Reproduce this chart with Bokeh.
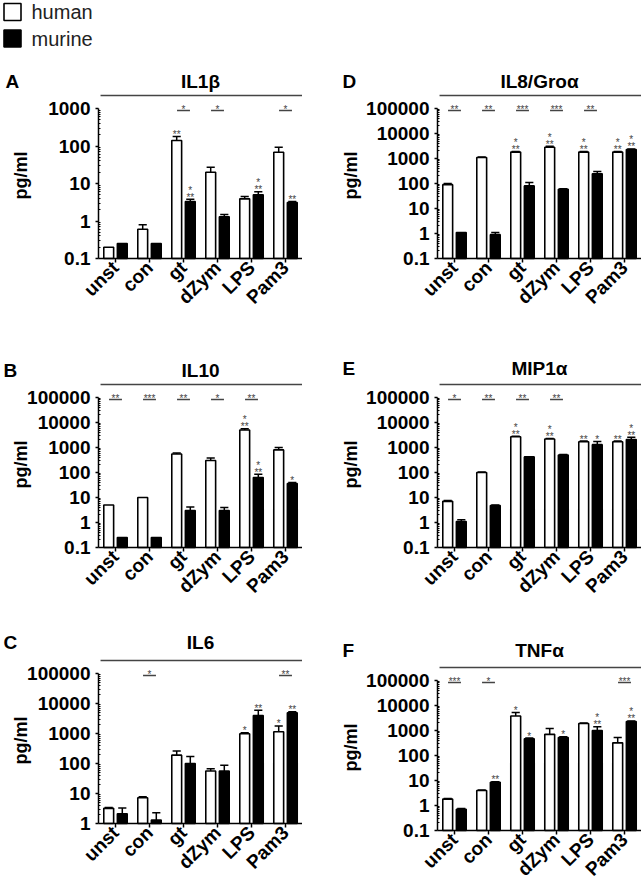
import math
from bokeh.plotting import figure
from bokeh.models import (Range1d, FixedTicker, CustomJSTickFormatter,
                          ColumnDataSource, Spacer)
from bokeh.layouts import row, column
from bokeh.embed import file_html
from bokeh.resources import INLINE
from bokeh.core.properties import value

FONT = "Liberation Sans"

categories = ["unst", "con", "gt", "dZym", "LPS", "Pam3"]
series = ["human", "murine"]

# ---- A: IL1beta ----
a_human = [0.2, 0.6, 140, 20, 3.9, 68]
a_human_up = [0.2, 0.8, 180, 27, 4.5, 93]
a_murine = [0.25, 0.25, 3.3, 1.3, 5.0, 3.1]
a_murine_up = [0.25, 0.25, 3.8, 1.5, 6.0, 3.3]
a_human_sig = ["", "", "**", "", "", ""]
a_murine_sig = ["", "", "***", "", "***", "**"]
a_pair_sig = ["", "", "*", "*", "", "*"]

# ---- B: IL10 ----
b_human = [5, 10, 550, 300, 5000, 800]
b_human_up = [5, 10, 600, 380, 5600, 1000]
b_murine = [0.25, 0.25, 3.0, 3.0, 63, 36]
b_murine_up = [0.25, 0.25, 4.2, 4.0, 85, 40]
b_human_sig = ["", "", "", "", "***", ""]
b_murine_sig = ["", "", "", "", "***", "*"]
b_pair_sig = ["**", "***", "**", "*", "**", ""]

# ---- C: IL6 ----
c_human = [3.2, 7.2, 190, 56, 980, 1150]
c_human_up = [3.4, 7.8, 260, 67, 1050, 1780]
c_murine = [2.1, 1.3, 100, 56, 4000, 4900]
c_murine_up = [3.3, 2.3, 170, 87, 6000, 5300]
c_human_sig = ["", "", "", "", "*", "*"]
c_murine_sig = ["", "", "", "", "**", "**"]
c_pair_sig = ["", "*", "", "", "", "**"]

# ---- D: IL8/Groalpha ----
d_human = [90, 1100, 1800, 2800, 1800, 1800]
d_human_up = [100, 1150, 1900, 3100, 1900, 1900]
d_murine = [1.1, 0.9, 80, 59, 245, 2300]
d_murine_up = [1.1, 1.1, 110, 62, 300, 2400]
d_human_sig = ["", "", "***", "***", "***", "***"]
d_murine_sig = ["", "", "", "", "", "***"]
d_pair_sig = ["**", "**", "***", "***", "**", ""]

# ---- E: MIP1alpha ----
e_human = [7, 100, 2700, 2200, 1700, 1700]
e_human_up = [7.5, 105, 2800, 2300, 1800, 1800]
e_murine = [1.1, 4.8, 420, 500, 1300, 2100]
e_murine_up = [1.3, 5.0, 430, 520, 1750, 2600]
e_human_sig = ["", "", "***", "***", "**", "**"]
e_murine_sig = ["", "", "", "", "*", "***"]
e_pair_sig = ["*", "**", "**", "**", "", ""]

# ---- F: TNFalpha ----
f_human = [1.8, 4.0, 3800, 700, 1900, 320]
f_human_up = [1.9, 4.2, 5200, 1200, 2000, 520]
f_murine = [0.7, 8.5, 470, 520, 1000, 2300]
f_murine_up = [0.75, 9.0, 500, 560, 1400, 2400]
f_human_sig = ["", "", "*", "", "", ""]
f_murine_sig = ["", "**", "*", "*", "***", "***"]
f_pair_sig = ["***", "*", "", "", "", "***"]

AXIS_H = 150
SIG_COLOR = "#444444"


def make_panel(letter, title, ymin, ymax, human, human_up, murine, murine_up,
               human_sig, murine_sig, pair_sig,
               frame_w, axis_px, top_extra, bottom_extra, title_dy,
               letter_dx, ylab_dx):
    n = len(categories)
    emin = round(math.log10(ymin))
    emax = round(math.log10(ymax))
    ppd = AXIS_H / (emax - emin)
    ytop = ymax * 10 ** (top_extra / ppd)
    ybot = ymin * 10 ** (-bottom_extra / ppd)
    pitch = (frame_w - axis_px) / n
    p = figure(x_range=Range1d(-axis_px / pitch, n),
               y_range=Range1d(ybot, ytop), y_axis_type="log",
               frame_width=frame_w, frame_height=AXIS_H + top_extra + bottom_extra,
               min_border=0, toolbar_location=None, output_backend="svg")
    p.outline_line_color = None
    p.grid.visible = False
    p.background_fill_color = "white"
    p.border_fill_color = "white"

    xc = [i + 0.5 for i in range(n)]
    xh = [c - 0.2 for c in xc]
    xm = [c + 0.2 for c in xc]

    # error bars (upper only)
    ex0, ey0, ex1, ey1 = [], [], [], []
    for xs, vals, ups in ((xh, human, human_up), (xm, murine, murine_up)):
        for x, v, u in zip(xs, vals, ups):
            if u > v:
                ex0 += [x, x - 0.12]
                ex1 += [x, x + 0.12]
                ey0 += [v, u]
                ey1 += [u, u]
    p.segment(x0=ex0, y0=ey0, x1=ex1, y1=ey1, line_color="black", line_width=1.5)

    src = ColumnDataSource(dict(xh=xh, xm=xm, h=human, m=murine))
    p.vbar(x="xh", top="h", bottom=ymin, width=0.29, source=src,
           fill_color="white", line_color="black", line_width=1.6)
    p.vbar(x="xm", top="m", bottom=ymin, width=0.29, source=src,
           fill_color="black", line_color="black", line_width=1.6)

    # significance marks above bars
    tx, ty, tt, to = [], [], [], []
    for xs, vals, ups, sigs in ((xh, human, human_up, human_sig),
                                (xm, murine, murine_up, murine_sig)):
        for x, v, u, s in zip(xs, vals, ups, sigs):
            if not s:
                continue
            top = max(v, u)
            if s == "***":
                tx += [x, x]; ty += [top, top]; tt += ["**", "*"]; to += [-2, -9]
            else:
                tx.append(x); ty.append(top); tt.append(s); to.append(-2)
    # pair brackets
    ybr = ymax * 10 ** (-2 / ppd)
    bx0, bx1, by = [], [], []
    for c, s in zip(xc, pair_sig):
        if not s:
            continue
        bx0.append(c - 0.19); bx1.append(c + 0.19); by.append(ybr)
        tx.append(c); ty.append(ybr); tt.append(s); to.append(-1)
    p.segment(x0=bx0, y0=by, x1=bx1, y1=by, line_color=SIG_COLOR, line_width=1.3)
    tsrc = ColumnDataSource(dict(x=tx, y=ty, t=tt, o=to))
    p.text(x="x", y="y", text="t", y_offset="o", source=tsrc,
           text_align="center", text_baseline="alphabetic",
           text_font=value(FONT), text_font_size="10px", text_color=SIG_COLOR)

    # long line under title
    yline = ymax * 10 ** (13 / ppd)
    p.segment(x0=[0.06], y0=[yline], x1=[n], y1=[yline],
              line_color="#444444", line_width=1.6)

    # title, panel letter, y label
    p.text(x=[n / 2], y=[ymax], text=[title], y_offset=[title_dy],
           text_align="center", text_baseline="middle", text_font=value(FONT),
           text_font_size="19px", text_font_style="bold", text_color="black")
    p.text(x=[0], y=[ymax], text=[letter], x_offset=[letter_dx], y_offset=[title_dy],
           text_align="left", text_baseline="middle", text_font=value(FONT),
           text_font_size="19px", text_font_style="bold", text_color="black")
    p.text(x=[0], y=[math.sqrt(ymin * ymax)], text=["pg/ml"], x_offset=[ylab_dx],
           y_offset=[-8], angle=math.pi / 2, text_align="center",
           text_baseline="middle", text_font=value(FONT), text_font_size="18px",
           text_font_style="bold", text_color="black")

    # y axis (log), drawn at x = 0
    majors = [10.0 ** e for e in range(emin, emax + 1)]
    minors = [k * 10.0 ** e for e in range(emin, emax) for k in range(2, 10)]
    ya = p.yaxis[0]
    ya.fixed_location = 0
    ya.bounds = (ymin, ymax)
    ya.ticker = FixedTicker(ticks=majors, minor_ticks=minors)
    ya.formatter = CustomJSTickFormatter(code="return String(tick)")
    ya.axis_line_color = "black"
    ya.axis_line_width = 1.5
    ya.major_tick_out = 3
    ya.major_tick_in = 0
    ya.major_tick_line_width = 1.5
    ya.minor_tick_out = 0
    ya.minor_tick_in = 2
    ya.minor_tick_line_width = 1
    ya.major_label_standoff = 5
    ya.major_label_text_font = FONT
    ya.major_label_text_font_size = "19px"
    ya.major_label_text_font_style = "bold"
    ya.major_label_text_color = "black"

    # x axis with category labels, drawn at y = ymin
    xa = p.xaxis[0]
    xa.fixed_location = ymin
    xa.bounds = (0, n)
    xa.ticker = FixedTicker(ticks=xc, minor_ticks=[])
    xa.formatter = CustomJSTickFormatter(args=dict(cats=categories),
                                         code="return cats[Math.round(tick - 0.5)]")
    xa.axis_line_color = "black"
    xa.axis_line_width = 1.5
    xa.major_tick_out = 4
    xa.major_tick_in = 0
    xa.major_tick_line_width = 1.5
    xa.minor_tick_out = 0
    xa.minor_tick_in = 0
    xa.major_label_orientation = math.pi / 4
    xa.major_label_standoff = 2
    xa.major_label_text_font = FONT
    xa.major_label_text_font_size = "19px"
    xa.major_label_text_font_style = "bold"
    xa.major_label_text_color = "black"
    return p


LEFT_W, LEFT_AX = 302, 98
RIGHT_W, RIGHT_AX = 339, 135
LEG_H = 56

# legend
leg = figure(frame_width=LEFT_W, frame_height=LEG_H, x_range=Range1d(0, LEFT_W),
             y_range=Range1d(LEG_H, 0), min_border=0, toolbar_location=None,
             output_backend="svg", x_axis_location=None, y_axis_location=None)
leg.outline_line_color = None
leg.grid.visible = False
leg.rect(x=[12, 12], y=[11.5, 38], width=17, height=17,
         fill_color=["white", "black"], line_color="black", line_width=1.6)
leg.text(x=[31, 31], y=[11.5, 38], text=series, text_align="left",
         text_baseline="middle", text_font=value(FONT), text_font_size="20px",
         text_color="#222222")

pA = make_panel("A", "IL1β", 0.1, 1000, a_human, a_human_up, a_murine, a_murine_up,
                a_human_sig, a_murine_sig, a_pair_sig,
                LEFT_W, LEFT_AX, 52, 94, -27, -93, -78)
pB = make_panel("B", "IL10", 0.1, 100000, b_human, b_human_up, b_murine, b_murine_up,
                b_human_sig, b_murine_sig, b_pair_sig,
                LEFT_W, LEFT_AX, 45, 78, -27, -95, -78)
pC = make_panel("C", "IL6", 1, 100000, c_human, c_human_up, c_murine, c_murine_up,
                c_human_sig, c_murine_sig, c_pair_sig,
                LEFT_W, LEFT_AX, 48, 63, -31, -95, -78)
pD = make_panel("D", "IL8/Groα", 0.1, 100000, d_human, d_human_up, d_murine, d_murine_up,
                d_human_sig, d_murine_sig, d_pair_sig,
                RIGHT_W, RIGHT_AX, 52, 94, -27, -95, -87)
pE = make_panel("E", "MIP1α", 0.1, 100000, e_human, e_human_up, e_murine, e_murine_up,
                e_human_sig, e_murine_sig, e_pair_sig,
                RIGHT_W, RIGHT_AX, 45, 85, -29, -95, -87)
pF = make_panel("F", "TNFα", 0.1, 100000, f_human, f_human_up, f_murine, f_murine_up,
                f_human_sig, f_murine_sig, f_pair_sig,
                RIGHT_W, RIGHT_AX, 48, 56, -30, -95, -87)

layout = row(column(leg, pA, pB, pC),
             column(Spacer(width=RIGHT_W, height=LEG_H), pD, pE, pF))

open("out.html", "w").write(file_html(layout, INLINE))
